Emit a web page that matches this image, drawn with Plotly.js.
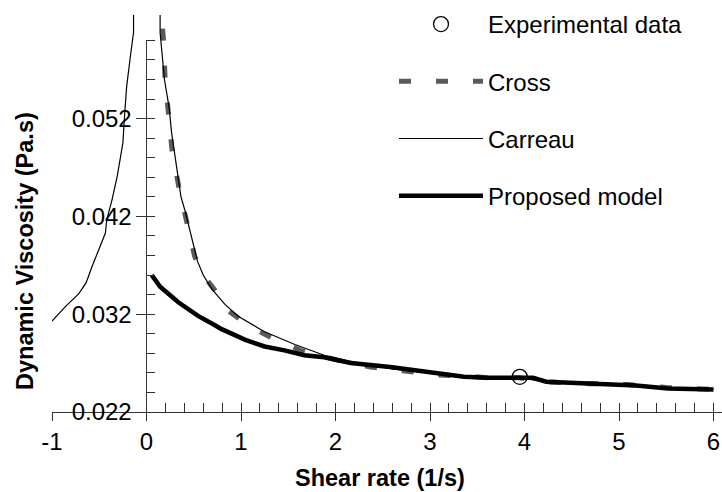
<!DOCTYPE html>
<html>
<head>
<meta charset="utf-8">
<script src="https://cdn.plot.ly/plotly-3.0.1.min.js"></script>
<style>html,body{margin:0;padding:0;background:#fff;}#chart{width:722px;height:492px;}</style>
</head>
<body>
<div id="chart"></div>
<script>
// ---- data ----
var crossX = [0.17, 0.18, 0.197, 0.23, 0.27, 0.344, 0.44, 0.51, 0.6, 0.76, 0.86, 1.07, 1.32, 1.63, 2.02, 2.37, 2.73, 3.07, 3.32, 3.63, 3.95, 4.2, 4.69, 5.1, 5.5, 6.0];
var crossY = [0.0612, 0.0600, 0.0560, 0.0524, 0.0488, 0.0449, 0.0409, 0.0379, 0.0360, 0.0340, 0.0324, 0.0309, 0.0296, 0.0283, 0.0273, 0.0266, 0.0262, 0.0258, 0.0257, 0.0255, 0.0255, 0.0251, 0.0249, 0.0248, 0.0245, 0.0243];

var carreauX = [-1.0, -0.856, -0.716, -0.64, -0.575, -0.505, -0.435, -0.42, -0.365, -0.31, -0.25, -0.23, -0.21, -0.17, -0.137, -0.137, null,
                0.144, 0.144, 0.19, 0.24, 0.265, 0.30, 0.365, 0.41, 0.48, 0.54, 0.6, 0.69, 0.83, 0.97, 1.18, 1.25, 1.57, 1.88, 2.2, 2.6, 3.0, 3.4, 3.95, 4.2, 4.7, 5.1, 5.5, 6.0];
var carreauY = [0.0313, 0.0328, 0.0341, 0.0352, 0.0369, 0.0386, 0.0403, 0.0417, 0.0437, 0.0461, 0.0495, 0.0526, 0.0553, 0.0584, 0.0608, 0.0626, null,
                0.0626, 0.0608, 0.0560, 0.0531, 0.0506, 0.0481, 0.0440, 0.0425, 0.0399, 0.0374, 0.0360, 0.0346, 0.0330, 0.0318, 0.0306, 0.0302, 0.0289, 0.0278, 0.0271, 0.0264, 0.0260, 0.0256, 0.0255, 0.0251, 0.0249, 0.0248, 0.0245, 0.0243];

var proposedX = [0.056, 0.144, 0.34, 0.55, 0.72, 0.79, 1.04, 1.25, 1.46, 1.67, 1.88, 2.16, 2.58, 3.0, 3.36, 3.6, 4.09, 4.23, 4.76, 5.18, 5.52, 6.0];
var proposedY = [0.0360, 0.0348, 0.0332, 0.0318, 0.0309, 0.0305, 0.0294, 0.0287, 0.0283, 0.0278, 0.0276, 0.0270, 0.0266, 0.0260, 0.0256, 0.0255, 0.0255, 0.0251, 0.0249, 0.0247, 0.0244, 0.0243];

var expX = [3.95];
var expY = [0.0256];

var xTickVals = [-1, 0, 1, 2, 3, 4, 5, 6];
var xTickText = ["-1", "0", "1", "2", "3", "4", "5", "6"];
var xMinorVals = [];
for (var i = 1; i < 30; i++) { if (i % 5 !== 0) xMinorVals.push(+(i * 0.2).toFixed(1)); }
var yTickVals = [0.022, 0.032, 0.042, 0.052];
var yTickText = ["0.022", "0.032", "0.042", "0.052"];
var yMinorVals = [];
for (var j = 1; j <= 19; j++) { if (j % 5 !== 0) yMinorVals.push(+(0.022 + j * 0.002).toFixed(3)); }

var seriesNames = ["Experimental data", "Cross", "Carreau", "Proposed model"];

// ---- layout constants ----
var FONT = 'Arial, "Liberation Sans", sans-serif';
var ML = 52;
var PLOT_W = 722 - ML;
var xRange = [-1, 6.09];
var yRange = [0.022, 0.0627];
var yAxisTop = 0.060;
var yPos = (0 - xRange[0]) / (xRange[1] - xRange[0]);
var yDomTop = (yAxisTop - yRange[0]) / (yRange[1] - yRange[0]);

var traces = [
  {x: crossX, y: crossY, name: seriesNames[1], mode: 'lines', legendrank: 2, legendgroup: 'b',
   line: {color: '#5a5a5a', width: 5, dash: '12px,25px'}},
  {x: carreauX, y: carreauY, name: seriesNames[2], mode: 'lines', legendrank: 3, legendgroup: 'c',
   line: {color: '#000', width: 1.2}, connectgaps: false},
  {x: proposedX, y: proposedY, name: seriesNames[3], mode: 'lines', legendrank: 4, legendgroup: 'd',
   line: {color: '#000', width: 4.5}},
  {x: expX, y: expY, name: seriesNames[0], mode: 'markers', legendrank: 1, legendgroup: 'a',
   marker: {symbol: 'circle-open', size: 15, color: '#000', line: {width: 1.3, color: '#000'}}},
  // helpers so that the overlay axes are drawn (no visible marks)
  {x: [], y: [], xaxis: 'x2', yaxis: 'y', showlegend: false, hoverinfo: 'skip'},
  {x: [], y: [], xaxis: 'x', yaxis: 'y2', showlegend: false, hoverinfo: 'skip'},
  {x: [], y: [], xaxis: 'x', yaxis: 'y3', showlegend: false, hoverinfo: 'skip'}
];

var axColor = '#333';
var layout = {
  width: 722, height: 492,
  margin: {l: ML, r: 0, t: 14, b: 80, autoexpand: false},
  paper_bgcolor: '#fff', plot_bgcolor: 'rgba(0,0,0,0)',
  font: {family: FONT, size: 24, color: '#000'},
  showlegend: true,
  legend: {
    xref: 'container', yref: 'container',
    x: 394 / 722, y: 1 - 2 / 492, xanchor: 'left', yanchor: 'top',
    bgcolor: 'rgba(0,0,0,0)', borderwidth: 0,
    font: {family: FONT, size: 24, color: '#000'},
    tracegroupgap: 23, itemwidth: 84, traceorder: 'grouped'
  },
  xaxis: {
    range: xRange, domain: [0, 1], anchor: 'y',
    showgrid: false, zeroline: false,
    showline: true, linecolor: axColor, linewidth: 1,
    tickmode: 'array', tickvals: xTickVals, ticktext: xTickText,
    ticks: 'outside', ticklen: 8, tickwidth: 1, tickcolor: axColor,
    ticklabeloverflow: 'allow',
    tickfont: {family: FONT, size: 24, color: '#000'},
    minor: {tickmode: 'array', tickvals: xMinorVals, ticks: 'inside', ticklen: 9, tickwidth: 1, tickcolor: axColor, showgrid: false}
  },
  xaxis2: {
    range: xRange, overlaying: 'x', anchor: 'y', side: 'bottom',
    showgrid: false, zeroline: false, showline: false, showticklabels: false,
    tickmode: 'array', tickvals: xTickVals,
    ticks: 'inside', ticklen: 9, tickwidth: 1, tickcolor: axColor
  },
  yaxis: {
    range: yRange, domain: [0, 1], anchor: 'x',
    visible: false, showgrid: false, zeroline: false
  },
  yaxis2: {
    range: [yRange[0], yAxisTop], domain: [0, yDomTop], anchor: 'free', position: yPos,
    showgrid: false, zeroline: false,
    showline: true, linecolor: axColor, linewidth: 1,
    tickmode: 'array', tickvals: yTickVals, ticktext: yTickText,
    ticks: 'outside', ticklen: 10, tickwidth: 1, tickcolor: axColor,
    tickfont: {family: FONT, size: 24, color: '#000'},
    minor: {tickmode: 'array', tickvals: yMinorVals, ticks: 'inside', ticklen: 8, tickwidth: 1, tickcolor: axColor, showgrid: false}
  },
  yaxis3: {
    range: [yRange[0], yAxisTop], domain: [0, yDomTop], anchor: 'free', position: yPos, overlaying: 'y2',
    showgrid: false, zeroline: false, showline: false, showticklabels: false,
    tickmode: 'array', tickvals: yTickVals,
    ticks: 'inside', ticklen: 8, tickwidth: 1, tickcolor: axColor
  },
  annotations: [
    {text: 'Shear rate (1/s)', xref: 'paper', yref: 'paper', x: (380 - ML) / PLOT_W, y: (412 - 478) / 398,
     xanchor: 'center', yanchor: 'middle', showarrow: false,
     font: {family: FONT, size: 23.5, color: '#000', weight: 'bold'}},
    {text: 'Dynamic Viscosity (Pa.s)', xref: 'paper', yref: 'paper', x: (25 - ML) / PLOT_W, y: (412 - 251) / 398,
     xanchor: 'center', yanchor: 'middle', textangle: -90, showarrow: false,
     font: {family: FONT, size: 23.5, color: '#000', weight: 'bold'}}
  ]
};

Plotly.newPlot('chart', traces, layout, {displayModeBar: false, staticPlot: true});
</script>
</body>
</html>
